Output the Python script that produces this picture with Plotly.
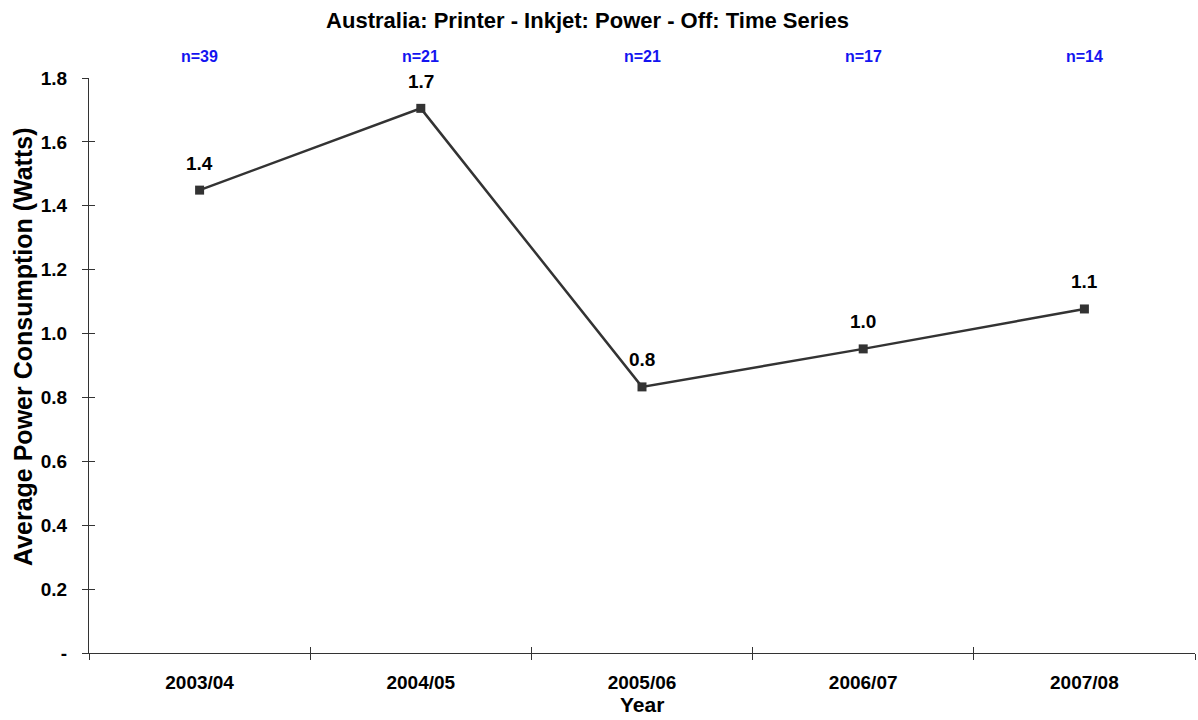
import plotly.graph_objects as go

years = ["2003/04", "2004/05", "2005/06", "2006/07", "2007/08"]
power = [1.449, 1.705, 0.833, 0.952, 1.077]
counts = [39, 21, 21, 17, 14]
y_tickvals = [0, 0.2, 0.4, 0.6, 0.8, 1.0, 1.2, 1.4, 1.6, 1.8]
y_ticktext = ["-", "0.2", "0.4", "0.6", "0.8", "1.0", "1.2", "1.4", "1.6", "1.8"]

FONT = "Liberation Sans, Arial, sans-serif"
AX = "#333333"

fig = go.Figure()
fig.add_trace(go.Scatter(
    x=years, y=power, mode="lines+markers",
    line=dict(color="#333333", width=2.5),
    marker=dict(symbol="square", size=9, color="#333333"),
    hoverinfo="x+y", showlegend=False,
))
# invisible helper trace for the overlay axes (inside half of crossing ticks)
fig.add_trace(go.Scatter(
    x=years, y=power, xaxis="x2", yaxis="y2", mode="markers",
    marker=dict(opacity=0), hoverinfo="skip", showlegend=False,
))

plot_top, plot_bottom = 78, 653
plot_left, plot_right = 89, 1195
ph = plot_bottom - plot_top
pw = plot_right - plot_left

annotations = []
for yr, v in zip(years, power):
    annotations.append(dict(
        x=yr, y=v, xref="x", yref="y", text=f"{v:.1f}",
        showarrow=False, yshift=27,
        font=dict(family=FONT, size=19, color="#000000", weight="bold"),
    ))
for yr, n in zip(years, counts):
    annotations.append(dict(
        x=yr, y=(plot_bottom - 57) / ph, xref="x", yref="paper", text=f"n={n}",
        showarrow=False, yanchor="middle",
        font=dict(family=FONT, size=16, color="#1414f0", weight="bold"),
    ))
annotations.append(dict(
    text="Year", xref="paper", yref="paper",
    x=(642 - plot_left) / pw, y=-(704 - plot_bottom) / ph,
    showarrow=False, yanchor="middle", xanchor="center",
    font=dict(family=FONT, size=21, color="#000000", weight="bold"),
))
annotations.append(dict(
    text="Average Power Consumption (Watts)", xref="paper", yref="paper",
    x=-(plot_left - 23) / pw, y=(plot_bottom - 347) / ph,
    textangle=-90, showarrow=False, yanchor="middle", xanchor="center",
    font=dict(family=FONT, size=25, color="#000000", weight="bold"),
))

common_x = dict(
    type="category", categoryorder="array", categoryarray=years,
    range=[-0.5, 4.5], tickson="boundaries", ticklen=6, tickcolor=AX,
    tickwidth=1, showgrid=False, zeroline=False,
)
common_y = dict(
    range=[0, 1.8], tickvals=y_tickvals, ticktext=y_ticktext,
    ticklen=6, tickcolor=AX, tickwidth=1, showgrid=False, zeroline=False,
)

fig.update_layout(
    width=1198, height=720,
    margin=dict(l=plot_left, r=1198 - plot_right, t=plot_top, b=720 - plot_bottom),
    paper_bgcolor="white", plot_bgcolor="white",
    title=dict(
        text="Australia: Printer - Inkjet: Power - Off: Time Series",
        x=587.5 / 1198, xanchor="center", y=1 - 20 / 720, yanchor="middle",
        font=dict(family=FONT, size=22, color="#000000", weight="bold"),
    ),
    xaxis=dict(
        **common_x, ticks="outside", showline=True, linecolor=AX, linewidth=1,
        tickfont=dict(family=FONT, size=19, color="#000000", weight="bold"),
        ticklabelstandoff=12,
    ),
    xaxis2=dict(
        **common_x, overlaying="x", matches="x", ticks="inside",
        showticklabels=False, showline=False,
    ),
    yaxis=dict(
        **common_y, ticks="outside", showline=True, linecolor=AX, linewidth=1,
        tickfont=dict(family=FONT, size=19, color="#000000", weight="bold"),
        ticklabelstandoff=11,
    ),
    yaxis2=dict(
        **common_y, overlaying="y", matches="y", ticks="inside",
        showticklabels=False, showline=False,
    ),
    annotations=annotations,
    showlegend=False,
)

fig.write_html(
    "out.html",
    config={"displayModeBar": False},
    post_script="document.body.style.margin='0';",
)
